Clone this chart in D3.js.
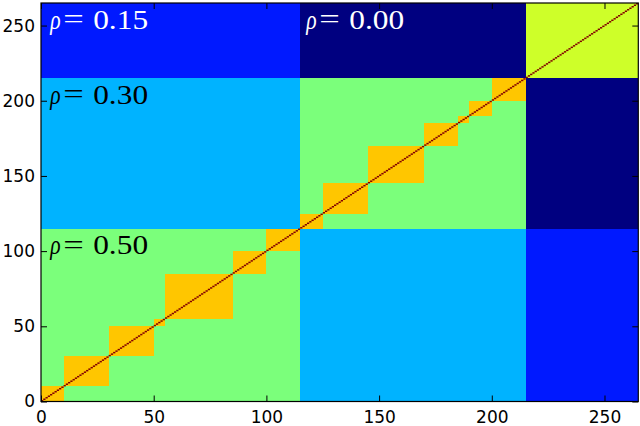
<!DOCTYPE html>
<html>
<head>
<meta charset="utf-8">
<script src="https://cdn.jsdelivr.net/npm/d3@7"></script>
<style>
  html, body { margin: 0; padding: 0; background: #ffffff; }
  svg { display: block; }
</style>
</head>
<body>
<svg id="chart" width="640" height="426"></svg>
<script>
// ---------------- data ----------------
const matrixSize = 265;
const groupStarts = [0, 115, 215];
const groupEnds   = [115, 215, 265];
const withinGroupValues = [0.5, 0.5, 0.6];
// correlation between groups (row group, column group)
const betweenGroupValues = [
  [null, 0.30, 0.15],
  [0.30, null, 0.00],
  [0.15, 0.00, null]
];
const subBlockStarts = [0, 10, 30, 50, 55, 85, 100, 115, 125, 145, 170, 185, 190, 200];
const subBlockEnds   = [10, 30, 50, 55, 85, 100, 115, 125, 145, 170, 185, 190, 200, 215];
const subBlockValue = 0.7;
const diagonalValue = 1.0;
const xTickValues = [0, 50, 100, 150, 200, 250];
const yTickValues = [0, 50, 100, 150, 200, 250];
// annotations (text, data x, data y of baseline)
const labelValues = ["0.15", "0.00", "0.30", "0.50"];
const labelX = [4.3, 117.9, 4.3, 4.3];
const labelY = [248, 248, 198, 98];
const labelRho = [0.15, 0.00, 0.30, 0.50];

// ---------------- jet colormap ----------------
const jetR = d3.scaleLinear().domain([0, 0.35, 0.66, 0.89, 1]).range([0, 0, 1, 1, 0.5]).clamp(true);
const jetG = d3.scaleLinear().domain([0, 0.125, 0.375, 0.64, 0.91, 1]).range([0, 0, 1, 1, 0, 0]).clamp(true);
const jetB = d3.scaleLinear().domain([0, 0.11, 0.34, 0.65, 1]).range([0.5, 1, 1, 0, 0]).clamp(true);
const colorNorm = d3.scaleLinear().domain([0, 1]).range([0, 1]);
function jet(v) {
  const t = colorNorm(v);
  return d3.rgb(Math.round(jetR(t) * 255), Math.round(jetG(t) * 255), Math.round(jetB(t) * 255)).toString();
}

// ---------------- layout ----------------
const W = 640, H = 426;
const margin = { left: 41, right: 1.7, top: 3, bottom: 24.5 };
const x = d3.scaleLinear().domain([0, matrixSize]).range([margin.left, W - margin.right]);
const y = d3.scaleLinear().domain([0, matrixSize]).range([H - margin.bottom, margin.top]);

const svg = d3.select("#chart");
const plot = svg.append("g");

// build rectangles: group blocks
const blocks = [];
for (let r = 0; r < groupStarts.length; r++) {
  for (let c = 0; c < groupStarts.length; c++) {
    const v = r === c ? withinGroupValues[r] : betweenGroupValues[r][c];
    blocks.push({ x0: groupStarts[c], x1: groupEnds[c], y0: groupStarts[r], y1: groupEnds[r], v });
  }
}
for (let i = 0; i < subBlockStarts.length; i++) {
  blocks.push({ x0: subBlockStarts[i], x1: subBlockEnds[i], y0: subBlockStarts[i], y1: subBlockEnds[i], v: subBlockValue });
}
const diagCells = d3.range(matrixSize).map(i => ({ x0: i, x1: i + 1, y0: i, y1: i + 1, v: diagonalValue }));

plot.selectAll("rect.block").data(blocks).join("rect")
  .attr("class", "block")
  .attr("x", d => x(d.x0))
  .attr("y", d => y(d.y1))
  .attr("width", d => x(d.x1) - x(d.x0))
  .attr("height", d => y(d.y0) - y(d.y1))
  .attr("fill", d => jet(d.v))
  .attr("shape-rendering", "crispEdges");

plot.selectAll("rect.diag").data(diagCells).join("rect")
  .attr("class", "diag")
  .attr("x", d => x(d.x0))
  .attr("y", d => y(d.y1))
  .attr("width", d => x(d.x1) - x(d.x0))
  .attr("height", d => y(d.y0) - y(d.y1))
  .attr("fill", d => jet(d.v));

// ---------------- annotations ----------------
const labelFont = "'Liberation Serif', 'DejaVu Serif', serif";
const labels = plot.selectAll("g.rho").data(labelValues.map((t, i) => ({ t, x: labelX[i], y: labelY[i], v: labelRho[i] })))
  .join("g")
  .attr("class", "rho")
  .attr("transform", d => `translate(${x(d.x)},${y(d.y)})`)
  .attr("font-family", labelFont)
  .attr("fill", d => d.v < 0.2 ? "#ffffff" : "#000000");
labels.append("text").attr("transform", "translate(-0.5,0) scale(0.8,1)").attr("font-size", 27).attr("font-style", "italic").text("ρ");
labels.append("text").attr("transform", "translate(12.5,-0.5) scale(1.3,1)").attr("font-size", 28).text("=");
labels.append("text").attr("transform", "translate(42.5,0) scale(1.12,1)").attr("font-size", 28).text(d => d.t);

// ---------------- axes ----------------
const tickLen = 6;
const fontAxis = "'DejaVu Sans', sans-serif";
const xAxisB = d3.axisBottom(x).tickValues(xTickValues).tickSizeInner(-tickLen).tickSizeOuter(0).tickPadding(9).tickFormat(d3.format("d"));
const xAxisT = d3.axisTop(x).tickValues(xTickValues).tickSizeInner(-tickLen).tickSizeOuter(0).tickFormat("");
const yAxisL = d3.axisLeft(y).tickValues(yTickValues).tickSizeInner(-tickLen).tickSizeOuter(0).tickPadding(6).tickFormat(d3.format("d"));
const yAxisR = d3.axisRight(y).tickValues(yTickValues).tickSizeInner(-tickLen).tickSizeOuter(0).tickFormat("");

function styleAxis(g) {
  g.select(".domain").remove();
  g.selectAll(".tick line").attr("stroke", "#000").attr("stroke-width", 1);
  g.selectAll(".tick text").attr("font-family", fontAxis).attr("font-size", 17).attr("fill", "#000");
}
svg.append("g").attr("transform", `translate(0,${y(0)})`).call(xAxisB).call(styleAxis);
svg.append("g").attr("transform", `translate(0,${y(matrixSize)})`).call(xAxisT).call(styleAxis);
svg.append("g").attr("transform", `translate(${x(0)},0)`).call(yAxisL).call(styleAxis);
svg.append("g").attr("transform", `translate(${x(matrixSize)},0)`).call(yAxisR).call(styleAxis);

// frame
svg.append("rect")
  .attr("x", x(0)).attr("y", y(matrixSize))
  .attr("width", x(matrixSize) - x(0)).attr("height", y(0) - y(matrixSize))
  .attr("fill", "none").attr("stroke", "#000").attr("stroke-width", 1.2);
</script>
</body>
</html>
